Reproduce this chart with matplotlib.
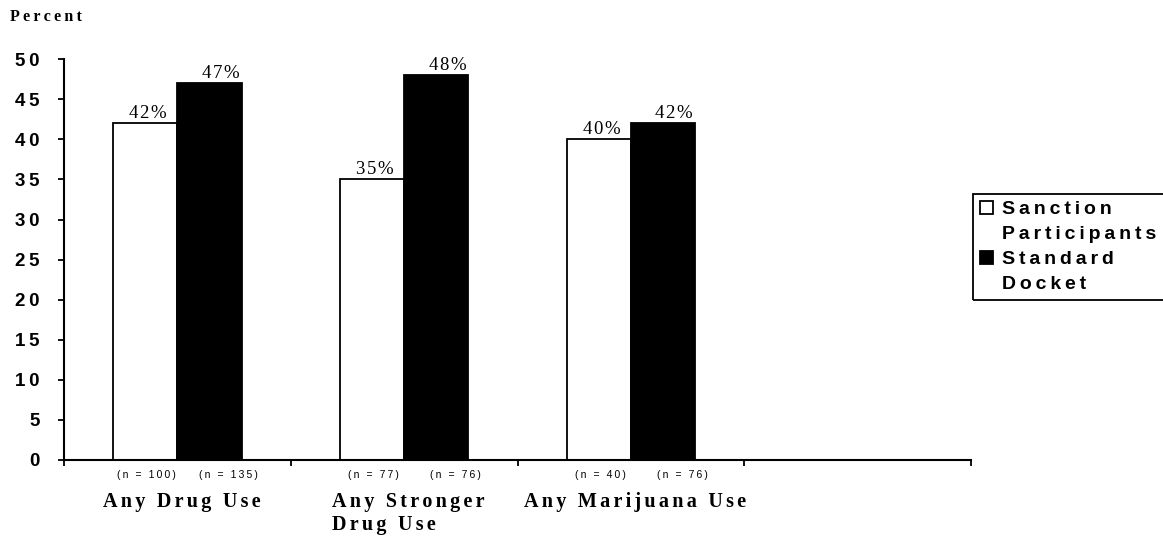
import numpy as np
import matplotlib
matplotlib.use("Agg")
import matplotlib.pyplot as plt
from matplotlib.patches import Rectangle

# drug use by group, percent of each group
categories = ["Any Drug Use", "Any Stronger\nDrug Use", "Any Marijuana Use"]
sanction = [42, 35, 40]
standard = [47, 48, 42]
n_sanction = [100, 77, 40]
n_standard = [135, 76, 76]
legend_lines = [["Sanction", "Participants"], ["Standard", "Docket"]]
yticks = [0, 5, 10, 15, 20, 25, 30, 35, 40, 45, 50]
n_slots = 4   # axis has room for one more group

SERIF = ["Liberation Serif", "DejaVu Serif"]
SANS = ["Liberation Sans", "DejaVu Sans"]


def spaced(s, sep="\u2009"):
    # wide letter spacing, one line at a time
    return "\n".join(sep.join(line) for line in s.split("\n"))


fig = plt.figure(figsize=(11.63, 5.38), dpi=100)
ax = fig.add_axes([0.055, 0.145, 0.78, 0.745])

x = np.arange(len(categories))
w = 0.283
b1 = ax.bar(x - w / 2, sanction, w, color="white", edgecolor="black", linewidth=1.3)
b2 = ax.bar(x + w / 2, standard, w, color="black", edgecolor="black", linewidth=1.3)

# value labels over the bars
for xi, v in zip(x - w / 2, sanction):
    ax.annotate(spaced(f"{v}%", "\u200a"), (xi, v), xytext=(2, 1), textcoords="offset points",
                ha="center", va="bottom", fontsize=13.5, family=SERIF)
for xi, v in zip(x + w / 2, standard):
    ax.annotate(spaced(f"{v}%", "\u200a"), (xi, v), xytext=(8, 1), textcoords="offset points",
                ha="center", va="bottom", fontsize=13.5, family=SERIF)

# sample sizes under the axis
for xi, n in zip(x - w / 2, n_sanction):
    ax.annotate(spaced(f"(n = {n})"), (xi, 0), xycoords=("data", "axes fraction"),
                xytext=(1, -11), textcoords="offset points", ha="center", va="center",
                fontsize=7.5, family=SANS)
for xi, n in zip(x + w / 2, n_standard):
    ax.annotate(spaced(f"(n = {n})"), (xi, 0), xycoords=("data", "axes fraction"),
                xytext=(14, -11), textcoords="offset points", ha="center", va="center",
                fontsize=7.5, family=SANS)

# category names
for xi, c in zip(x, categories):
    ax.annotate(spaced(c, "\u200a\u200a"), (xi, 0), xycoords=("data", "axes fraction"),
                xytext=(3, -23), textcoords="offset points", ha="center", va="top",
                multialignment="left", linespacing=1.2,
                fontsize=14.5, fontweight="bold", family=SERIF)

ax.set_xlim(-0.5, n_slots - 0.5)
ax.set_ylim(0, 50)
ax.set_xticks(np.arange(n_slots + 1) - 0.5, labels=[])
ax.set_yticks(yticks, labels=[spaced(str(v)) for v in yticks],
              fontsize=13.5, fontweight="bold", family=SANS)
ax.tick_params(axis="y", length=4.5, width=1.3, pad=13)
ax.tick_params(axis="x", length=4.5, width=1.3)
for side in ["top", "right"]:
    ax.spines[side].set_visible(False)
for side in ["left", "bottom"]:
    ax.spines[side].set_linewidth(1.5)

fig.text(10 / 1163, 1 - 9 / 538, spaced("Percent"), ha="left", va="top",
         fontsize=11.5, fontweight="bold", family=SERIF)

blank = Rectangle((0, 0), 1, 1, fill=False, edgecolor="none")
handles = [b1, blank, b2, blank]
labels = [spaced(s) for pair in legend_lines for s in pair]
leg = fig.legend(handles, labels, loc="upper left", bbox_to_anchor=(973 / 1163, 1 - 194 / 538),
                 frameon=False, borderaxespad=0, borderpad=0.35, handlelength=0.7,
                 handleheight=0.7, handletextpad=0.45, labelspacing=0.38,
                 prop={"family": SANS, "weight": "bold", "size": 14})

# legend box runs off the right edge
fig.canvas.draw()
bb = leg.get_window_extent()
W, H = fig.bbox.width, fig.bbox.height
fig.add_artist(Rectangle((bb.x0 / W, bb.y0 / H), 1.2, bb.height / H, transform=fig.transFigure,
                         fill=False, edgecolor="black", linewidth=1.3, clip_on=False))

fig.savefig("out.png", dpi=100)
